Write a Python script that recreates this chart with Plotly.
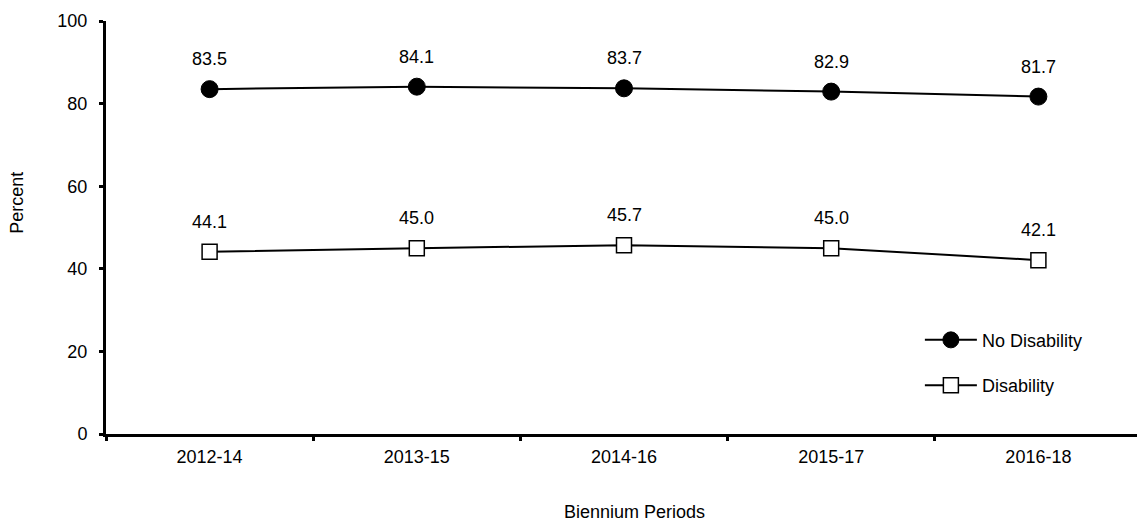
import plotly.graph_objects as go

periods = ["2012-14", "2013-15", "2014-16", "2015-17", "2016-18"]
no_disability = [83.5, 84.1, 83.7, 82.9, 81.7]
disability = [44.1, 45.0, 45.7, 45.0, 42.1]
y_ticks = [0, 20, 40, 60, 80, 100]

FONT = "Arial, Liberation Sans, sans-serif"

fig = go.Figure()
fig.add_trace(go.Scatter(
    x=periods, y=no_disability, name="No Disability", mode="lines+markers",
    line=dict(color="black", width=2),
    marker=dict(symbol="circle", size=17, color="black", line=dict(color="black", width=1)),
    legendgroup="a",
))
fig.add_trace(go.Scatter(
    x=periods, y=disability, name="Disability", mode="lines+markers",
    line=dict(color="black", width=2),
    marker=dict(symbol="square", size=15, color="white", line=dict(color="black", width=1.5)),
    legendgroup="b",
))

annotations = []
for series in (no_disability, disability):
    for p, v in zip(periods, series):
        annotations.append(dict(x=p, y=v, text=f"{v:.1f}", showarrow=False,
                                yshift=30, font=dict(size=18, color="black", family=FONT)))

annotations.append(dict(xref="paper", yref="paper", x=-0.0859, y=0.56, text="Percent",
                        xanchor="center", yanchor="middle",
                        textangle=-90, showarrow=False, font=dict(size=18, color="black", family=FONT)))
annotations.append(dict(xref="paper", yref="paper", x=0.51, y=-0.188, text="Biennium Periods",
                        xanchor="center", yanchor="middle",
                        showarrow=False, font=dict(size=18, color="black", family=FONT)))

# page body has an 8px default margin; compensate in the figure size/margins
fig.update_layout(
    width=1137, height=517,
    margin=dict(l=98, r=3, t=11, b=91),
    paper_bgcolor="white", plot_bgcolor="white",
    font=dict(family=FONT, size=18, color="black"),
    showlegend=True,
    legend=dict(x=0.7856, y=0.272, xanchor="left", yanchor="top",
                traceorder="grouped", tracegroupgap=19, itemwidth=52,
                bgcolor="rgba(0,0,0,0)", font=dict(size=18, family=FONT)),
    annotations=annotations,
    xaxis=dict(type="category", range=[-0.5, 4.5], tickson="boundaries",
               ticks="outside", ticklen=4, tickwidth=3, tickcolor="black",
               showline=True, linewidth=3, linecolor="black", showgrid=False,
               zeroline=False, ticklabelstandoff=4,
               tickfont=dict(size=18, family=FONT, color="black")),
    yaxis=dict(range=[0, 100], tickvals=y_ticks, ticks="outside", ticklen=4,
               tickwidth=3, tickcolor="black", showline=True, linewidth=3,
               linecolor="black", showgrid=False, zeroline=False,
               ticklabelstandoff=8,
               tickfont=dict(size=18, family=FONT, color="black")),
)

fig.write_html("out.html")
